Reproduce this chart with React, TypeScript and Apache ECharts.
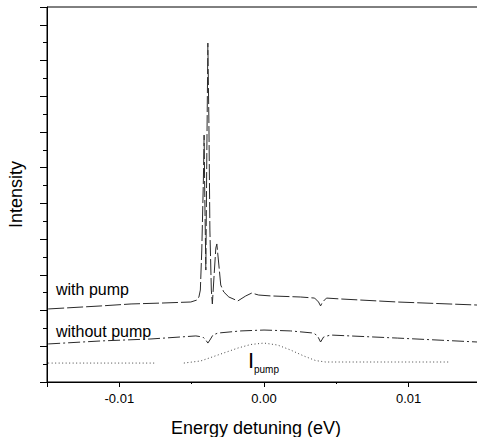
import React, { useEffect, useRef } from "react";
import * as echarts from "echarts";

// Energy detuning (eV) and intensity (arb. units)
const withPumpE = [
  -0.01492, -0.01126, -0.00919, -0.00712, -0.00506, -0.00464, -0.0045, -0.0044,
  -0.0043, -0.00419, -0.00414, -0.00409, -0.00402, -0.00395, -0.00388, -0.00381,
  -0.00374, -0.00364, -0.00357, -0.00347, -0.00333, -0.00326, -0.00312, -0.00299,
  -0.00278, -0.00243, -0.00181, -0.00126, -0.00085, -0.00037, 0.00046, 0.00253,
  0.0035, 0.00377, 0.00391, 0.00405, 0.00432, 0.00529, 0.00922, 0.01474,
];
const withPumpI = [
  4.09, 4.26, 4.37, 4.42, 4.48, 4.59, 4.76, 5.15,
  7.39, 11.31, 13.83, 10.19, 6.27, 12.99, 18.98, 14.67,
  8.51, 5.15, 4.37, 5.71, 7.5, 7.73, 6.55, 5.43,
  5.04, 4.76, 4.54, 4.82, 4.98, 4.87, 4.82, 4.76,
  4.7, 4.48, 4.26, 4.48, 4.7, 4.65, 4.48, 4.31,
];

const withoutPumpE = [
  -0.01492, -0.01126, -0.00781, -0.00471, -0.00423, -0.00402, -0.00388, -0.00374,
  -0.00353, -0.00319, -0.0016, 0.0, 0.00184, 0.00343, 0.0037, 0.00391,
  0.00412, 0.0046, 0.00922, 0.01474,
];
const withoutPumpI = [
  2.13, 2.3, 2.41, 2.58, 2.52, 2.35, 2.18, 2.35,
  2.63, 2.74, 2.86, 2.91, 2.86, 2.74, 2.58, 2.24,
  2.52, 2.63, 2.46, 2.24,
];

const pumpE = [
  -0.01492, -0.00747, -0.0065, -0.00554, -0.00437, -0.00319, -0.00181, -0.00092,
  0.0, 0.00094, 0.00184, 0.00274, 0.00357, 0.00426, 0.01274,
];
const pumpI: (number | null)[] = [
  1.06, 1.06, null, 1.06, 1.18, 1.51, 1.9, 2.1,
  2.18, 2.07, 1.79, 1.46, 1.2, 1.12, 1.12,
];

const xLabels = ["-0.01", "0.00", "0.01"];

const FONT = "'Liberation Sans', Arial, Helvetica, sans-serif";

export default function App() {
  const ref = useRef<HTMLDivElement>(null);

  useEffect(() => {
    if (!ref.current) return;
    const chart = echarts.init(ref.current, undefined, { renderer: "svg" });

    const pair = (xs: number[], ys: (number | null)[]) =>
      xs.map((x, i) => [x, ys[i] === null ? "-" : ys[i]]);

    const lineColor = "#2a2a2a";

    chart.setOption({
      animation: false,
      backgroundColor: "#ffffff",
      textStyle: { fontFamily: FONT },
      grid: {
        left: 47,
        top: 7,
        right: -4,
        bottom: 55,
        show: true,
        borderColor: "#000",
        borderWidth: 1,
        backgroundColor: "transparent",
        outerBoundsMode: "none",
        containLabel: false,
      },
      xAxis: [
        {
          type: "value",
          position: "bottom",
          min: -0.015,
          max: 0.015,
          splitNumber: 3,
          axisLine: { show: true, onZero: false, lineStyle: { color: "#000", width: 1 } },
          axisTick: { show: true, length: 5, lineStyle: { color: "#000" } },
          splitLine: { show: false },
          axisLabel: {
            show: true,
            margin: 10,
            color: "#000",
            fontSize: 13,
            fontFamily: FONT,
            formatter: (v: number) => {
              const k = Math.round(v / 0.01);
              if (Math.abs(v - k * 0.01) > 1e-6 || Math.abs(k) > 1) return "";
              return xLabels[k + 1];
            },
          },
        },
        {
          type: "value",
          position: "bottom",
          min: -0.015,
          max: 0.015,
          interval: 0.005,
          axisLine: { show: false, onZero: false },
          axisTick: { show: true, length: 2, lineStyle: { color: "#000" } },
          splitLine: { show: false },
          axisLabel: { show: false },
        },
      ],
      yAxis: [
        {
          type: "value",
          position: "left",
          min: 0,
          max: 21,
          interval: 2,
          name: "Intensity",
          nameLocation: "middle",
          nameGap: 22,
          nameTextStyle: { color: "#000", fontSize: 18, fontFamily: FONT },
          axisLine: { show: true, onZero: false, lineStyle: { color: "#000", width: 1 } },
          axisTick: { show: true, length: 7, lineStyle: { color: "#000" } },
          axisLabel: { show: false },
          splitLine: { show: false },
        },
        {
          type: "value",
          position: "left",
          min: 0,
          max: 21,
          interval: 1,
          axisLine: { show: false, onZero: false },
          axisTick: { show: true, length: 4, lineStyle: { color: "#000" } },
          axisLabel: { show: false },
          splitLine: { show: false },
        },
      ],
      series: [
        {
          name: "with pump",
          type: "line",
          xAxisIndex: 0,
          yAxisIndex: 0,
          data: pair(withPumpE, withPumpI),
          symbol: "none",
          lineStyle: { color: lineColor, width: 1, type: [16, 3] },
        },
        {
          name: "without pump",
          type: "line",
          xAxisIndex: 0,
          yAxisIndex: 0,
          data: pair(withoutPumpE, withoutPumpI),
          symbol: "none",
          lineStyle: { color: lineColor, width: 1, type: [12, 3, 2, 3] },
        },
        {
          name: "I pump",
          type: "line",
          xAxisIndex: 0,
          yAxisIndex: 0,
          data: pair(pumpE, pumpI),
          connectNulls: false,
          symbol: "none",
          lineStyle: { color: "#444", width: 1, type: [1, 2.5] },
        },
      ],
      graphic: [
        {
          type: "text",
          x: 56,
          y: 289.5,
          style: {
            text: "with pump",
            font: `16px ${FONT}`,
            fill: "#000",
            textAlign: "left",
            textVerticalAlign: "middle",
          },
        },
        {
          type: "text",
          x: 56,
          y: 331,
          style: {
            text: "without pump",
            font: `16px ${FONT}`,
            fill: "#000",
            textAlign: "left",
            textVerticalAlign: "middle",
          },
        },
        {
          type: "text",
          x: 248,
          y: 360,
          style: {
            text: "I",
            font: `22px ${FONT}`,
            fill: "#000",
            textAlign: "left",
            textVerticalAlign: "middle",
          },
        },
        {
          type: "text",
          x: 254,
          y: 369,
          style: {
            text: "pump",
            font: `10px ${FONT}`,
            fill: "#000",
            textAlign: "left",
            textVerticalAlign: "middle",
          },
        },
        {
          type: "text",
          x: 256,
          y: 428,
          style: {
            text: "Energy detuning (eV)",
            font: `18px ${FONT}`,
            fill: "#000",
            textAlign: "center",
            textVerticalAlign: "middle",
          },
        },
      ],
    });

    return () => chart.dispose();
  }, []);

  return (
    <div
      ref={ref}
      style={{ position: "absolute", left: 0, top: 0, width: 477, height: 437 }}
    />
  );
}
